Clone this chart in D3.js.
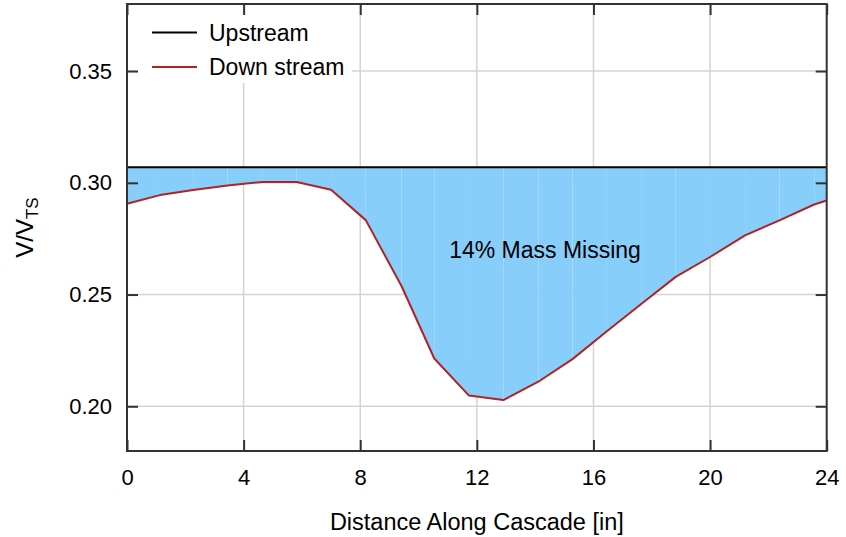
<!DOCTYPE html>
<html>
<head>
<meta charset="utf-8">
<script src="https://cdn.jsdelivr.net/npm/d3@7"></script>
<style>
  html, body { margin: 0; padding: 0; background: #fff; }
  svg text { font-family: "Liberation Sans", Arial, Helvetica, sans-serif; fill: #000; }
</style>
</head>
<body>
<svg id="chart" width="846" height="537"></svg>
<script>
// ---- data ----
const distance = [0, 1.13, 2.27, 3.45, 4.66, 5.82, 7.00, 8.19, 9.42, 10.54, 11.73, 12.91,
                  14.11, 15.28, 16.46, 17.66, 18.82, 20.00, 21.20, 22.38, 23.57, 24.0];
const downstream = [0.2906, 0.2945, 0.2968, 0.2988, 0.3004, 0.3004, 0.2969, 0.2833, 0.2537,
                    0.2214, 0.2048, 0.2028, 0.2110, 0.2211, 0.2336, 0.2460, 0.2579, 0.2668,
                    0.2765, 0.2832, 0.2903, 0.2921];
const upstreamLevel = 0.3070;
const upstream = distance.map(() => upstreamLevel);
const xTicks = [0, 4, 8, 12, 16, 20, 24];
const yTicks = [0.20, 0.25, 0.30, 0.35];
const seriesNames = ["Upstream", "Down stream"];
const seriesColors = ["#000000", "#B22222"];
const annotation = { text: "14% Mass Missing", x: 11.05, y: 0.2665 };

// ---- layout ----
const svg = d3.select("#chart");
const m = { left: 127, right: 846 - 826.7, top: 4, bottom: 537 - 451 };
const W = 846 - m.left - m.right, H = 537 - m.top - m.bottom;
const x = d3.scaleLinear().domain([0, 24]).range([m.left, m.left + W]);
const y = d3.scaleLinear().domain([0.18, 0.38]).range([m.top + H, m.top]);

// grid
const grid = svg.append("g");
grid.selectAll(".gx").data(xTicks.slice(1, -1)).join("line")
  .attr("x1", d => x(d)).attr("x2", d => x(d))
  .attr("y1", m.top).attr("y2", m.top + H)
  .attr("stroke", "#d4d4d4").attr("stroke-width", 1.5);
grid.selectAll(".gy").data(yTicks).join("line")
  .attr("x1", m.left).attr("x2", m.left + W)
  .attr("y1", d => y(d)).attr("y2", d => y(d))
  .attr("stroke", "#d4d4d4").attr("stroke-width", 1.5);

// fill between upstream and downstream (one polygon per segment)
const pts = distance.map((d, i) => ({ x: d, up: upstream[i], down: downstream[i] }));
const area = d3.area().x(d => x(d.x)).y0(d => y(d.down)).y1(d => y(d.up));
const segs = d3.pairs(pts);
svg.append("g").selectAll("path").data(segs).join("path")
  .attr("d", d => area(d))
  .attr("fill", "#87CEFA");

// lines
const line = key => d3.line().x(d => x(d.x)).y(d => y(d[key]));
svg.append("path").datum(pts).attr("d", line("up"))
  .attr("fill", "none").attr("stroke", seriesColors[0]).attr("stroke-width", 2);
svg.append("path").datum(pts).attr("d", line("down"))
  .attr("fill", "none").attr("stroke", seriesColors[1]).attr("stroke-width", 2)
  .attr("stroke-linejoin", "round");

// legend
svg.append("rect").attr("x", 137).attr("y", 15).attr("width", 215).attr("height", 68).attr("fill", "#fff");
const lg = svg.append("g");
seriesNames.forEach((name, i) => {
  const ly = 32.5 + i * 34.5;
  lg.append("line").attr("x1", 152).attr("x2", 197).attr("y1", ly).attr("y2", ly)
    .attr("stroke", seriesColors[i]).attr("stroke-width", 2);
  lg.append("text").attr("x", 209).attr("y", ly + 8.3).attr("font-size", 23).text(name);
});

// annotation
svg.append("text").attr("x", x(annotation.x)).attr("y", y(annotation.y))
  .attr("font-size", 23).text(annotation.text);

// frame
svg.append("rect").attr("x", m.left).attr("y", m.top).attr("width", W).attr("height", H)
  .attr("fill", "none").attr("stroke", "#333").attr("stroke-width", 2);

// axes
const tickLen = 11;
const xAxis = d3.axisBottom(x).tickValues(xTicks).tickFormat(d3.format("d")).tickSizeInner(-tickLen).tickSizeOuter(0).tickPadding(tickLen + 7);
const gx = svg.append("g").attr("transform", `translate(0,${m.top + H})`).call(xAxis);
const gxt = svg.append("g").attr("transform", `translate(0,${m.top})`).call(d3.axisTop(x).tickValues(xTicks).tickSizeInner(-tickLen).tickSizeOuter(0).tickFormat(""));
const yAxis = d3.axisLeft(y).tickValues(yTicks).tickFormat(d3.format(".2f")).tickSizeInner(-tickLen).tickSizeOuter(0).tickPadding(tickLen + 4);
const gy = svg.append("g").attr("transform", `translate(${m.left},0)`).call(yAxis);
const gyr = svg.append("g").attr("transform", `translate(${m.left + W},0)`).call(d3.axisRight(y).tickValues(yTicks).tickSizeInner(-tickLen).tickSizeOuter(0).tickFormat(""));
[gx, gxt, gy, gyr].forEach(g => {
  g.select(".domain").remove();
  g.selectAll(".tick line").attr("stroke", "#333").attr("stroke-width", 2);
  g.selectAll(".tick text").attr("font-size", 22).attr("font-family", "Liberation Sans, Arial, sans-serif").attr("fill", "#000");
});

// axis titles
svg.append("text").attr("x", m.left + W / 2).attr("y", 530).attr("text-anchor", "middle")
  .attr("font-size", 23.5).text("Distance Along Cascade [in]");
const yl = svg.append("text").attr("transform", `translate(33,${m.top + H / 2}) rotate(-90)`)
  .attr("text-anchor", "middle").attr("font-size", 24);
yl.append("tspan").text("V/V");
yl.append("tspan").attr("font-size", 17).attr("dy", 5).text("TS");
</script>
</body>
</html>
